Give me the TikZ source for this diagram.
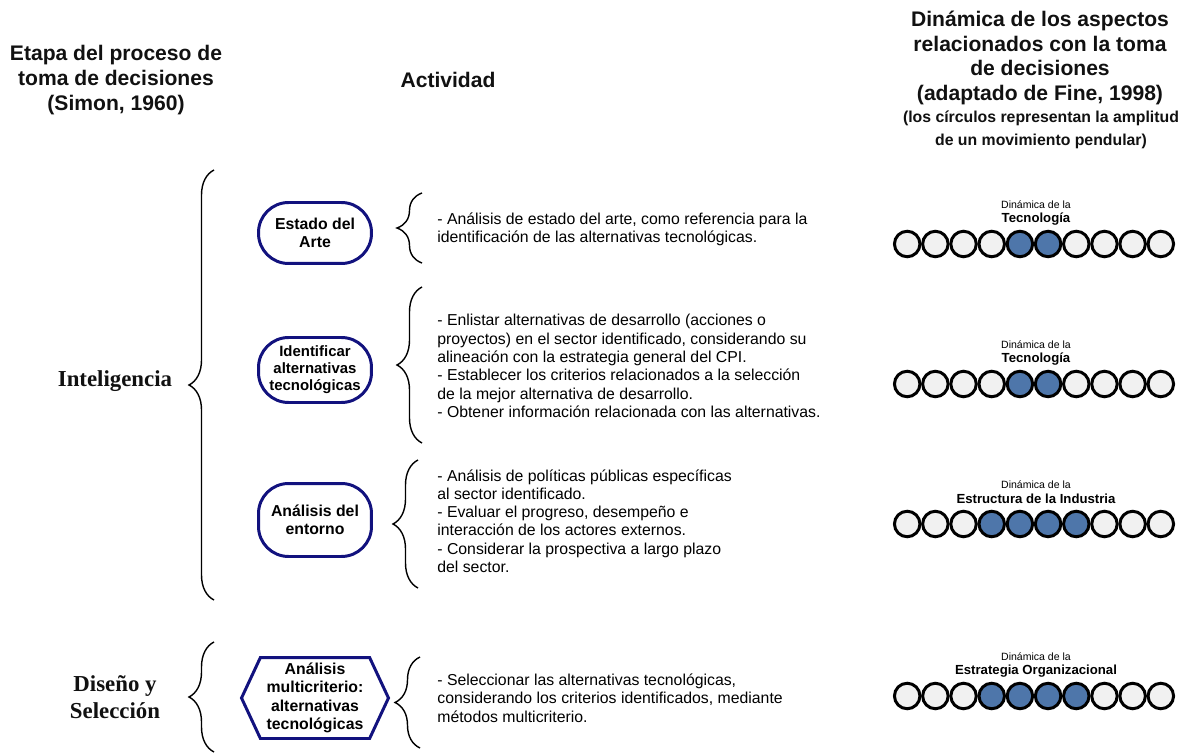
\documentclass[tikz,border=0pt]{standalone}
\usepackage{fontspec}
\setmainfont{Liberation Sans}
\newfontfamily\stgfont{Liberation Serif}
\usetikzlibrary{shapes.symbols,decorations.pathreplacing}
\definecolor{simnavy}{HTML}{12127E}
\definecolor{simsteel}{HTML}{4E76AA}
\definecolor{simpale}{HTML}{F1F1F1}
\definecolor{simink}{HTML}{111111}
\newcommand{\fs}[2]{\fontsize{#1}{#2}\selectfont}
\tikzset{
  hdr/.style={font=\fs{12}{14}\bfseries, align=center, inner sep=0pt, text=simink},
  hdrs/.style={font=\fs{9}{13}\bfseries, align=center, inner sep=0pt, text=simink},
  stg/.style={font=\fs{13}{15.3}\stgfont\bfseries, align=center, inner sep=0pt, text=simink},
  pill/.style={rectangle, rounded corners=0.6cm, draw=simnavy, line width=1.7pt, fill=white, font=\fs{9}{10.4}\bfseries, align=center, minimum width=2.26cm, inner sep=1pt},
  hexa/.style={signal, signal to=west and east, signal pointer angle=130, draw=simnavy, line width=1.7pt, fill=white, font=\fs{9}{10.4}\bfseries, align=center, minimum width=2.94cm, minimum height=1.62cm, inner sep=1pt},
  act/.style={anchor=west, align=left, font=\fs{9}{10.4}, inner sep=0pt},
  brc/.style={decorate, decoration={brace, amplitude=0.5cm}, line width=0.8pt},
  dot/.style={circle, draw=black, line width=1.7pt, minimum size=0.51cm, inner sep=0pt},
  dyn/.style={font=\fs{6}{7}, inner sep=0pt},
  dynb/.style={font=\fs{7.5}{9}\bfseries, inner sep=0pt},
}
\begin{document}
\begin{tikzpicture}[x=0.02cm, y=-0.02cm]
    \fill[white] (0,0) rectangle (1187,753);
    \useasboundingbox (0,0) rectangle (1187,753);
    \node[hdr] (hstage) at (116,80) {Etapa del proceso de\\toma de decisiones\\(Simon, 1960)};
    \node[hdr] (hact) at (448,80) {Actividad};
    \node[hdr] (hdyn) at (1040,58) {Dinámica de los aspectos\\relacionados con la toma\\de decisiones\\(adaptado de Fine, 1998)};
    \node[hdrs] (hdyns) at (1041,130) {(los círculos representan la amplitud\\de un movimiento pendular)};
    \node[stg] (intel) at (115,381) {Inteligencia};
    \node[stg] (disel) at (115,697) {Diseño y\\Selección};
    \draw[brc] (214,600) -- (214,170);
    \draw[brc] (214,752) -- (214,642);
    \node[pill, minimum height=1.22cm] (est) at (315,233) {Estado del\\Arte};
    \node[pill, minimum height=1.30cm, font=\fs{8.5}{9.6}\bfseries] (ide) at (315,370) {Identificar\\alternativas\\tecnológicas};
    \node[pill, minimum height=1.46cm] (ent) at (315,520) {Análisis del\\entorno};
    \node[hexa] (mul) at (315,698) {Análisis\\multicriterio:\\alternativas\\tecnológicas};
    \draw[brc] (422,263) -- (422,193);
    \draw[brc] (422,443) -- (422,287);
    \draw[brc] (418,588) -- (418,460);
    \draw[brc] (420,748) -- (420,657);
    \node[act] (a1) at (437,229) {- Análisis de estado del arte, como referencia para la\\identificación de las alternativas tecnológicas.};
    \node[act] (a2) at (437,366) {- Enlistar alternativas de desarrollo (acciones o\\proyectos) en el sector identificado, considerando su\\alineación con la estrategia general del CPI.\\- Establecer los criterios relacionados a la selección\\de la mejor alternativa de desarrollo.\\- Obtener información relacionada con las alternativas.};
    \node[act] (a3) at (437,521) {- Análisis de políticas públicas específicas\\al sector identificado.\\- Evaluar el progreso, desempeño e\\interacción de los actores externos.\\- Considerar la prospectiva a largo plazo\\del sector.};
    \node[act] (a4) at (437,698) {- Seleccionar las alternativas tecnológicas,\\considerando los criterios identificados, mediante\\métodos multicriterio.};
    \foreach \r/\y/\lo/\hi/\nm in {1/244/4/5/Tecnología, 2/384/4/5/Tecnología, 3/524/3/6/Estructura de la Industria, 4/696/3/6/Estrategia Organizacional} {
      \node[dyn] (dl\r) at (1036,\y-39) {Dinámica de la};
      \node[dynb] (dn\r) at (1036,\y-25) {\nm};
      \foreach \i in {0,...,9} {
        \ifnum\i<\lo \def\fc{simpale}\else\ifnum\i>\hi \def\fc{simpale}\else\def\fc{simsteel}\fi\fi
        \node[dot, fill=\fc] (d\r-\i) at (907.2+28.18*\i,\y) {};
      }
    }
  \end{tikzpicture}
\end{document}
